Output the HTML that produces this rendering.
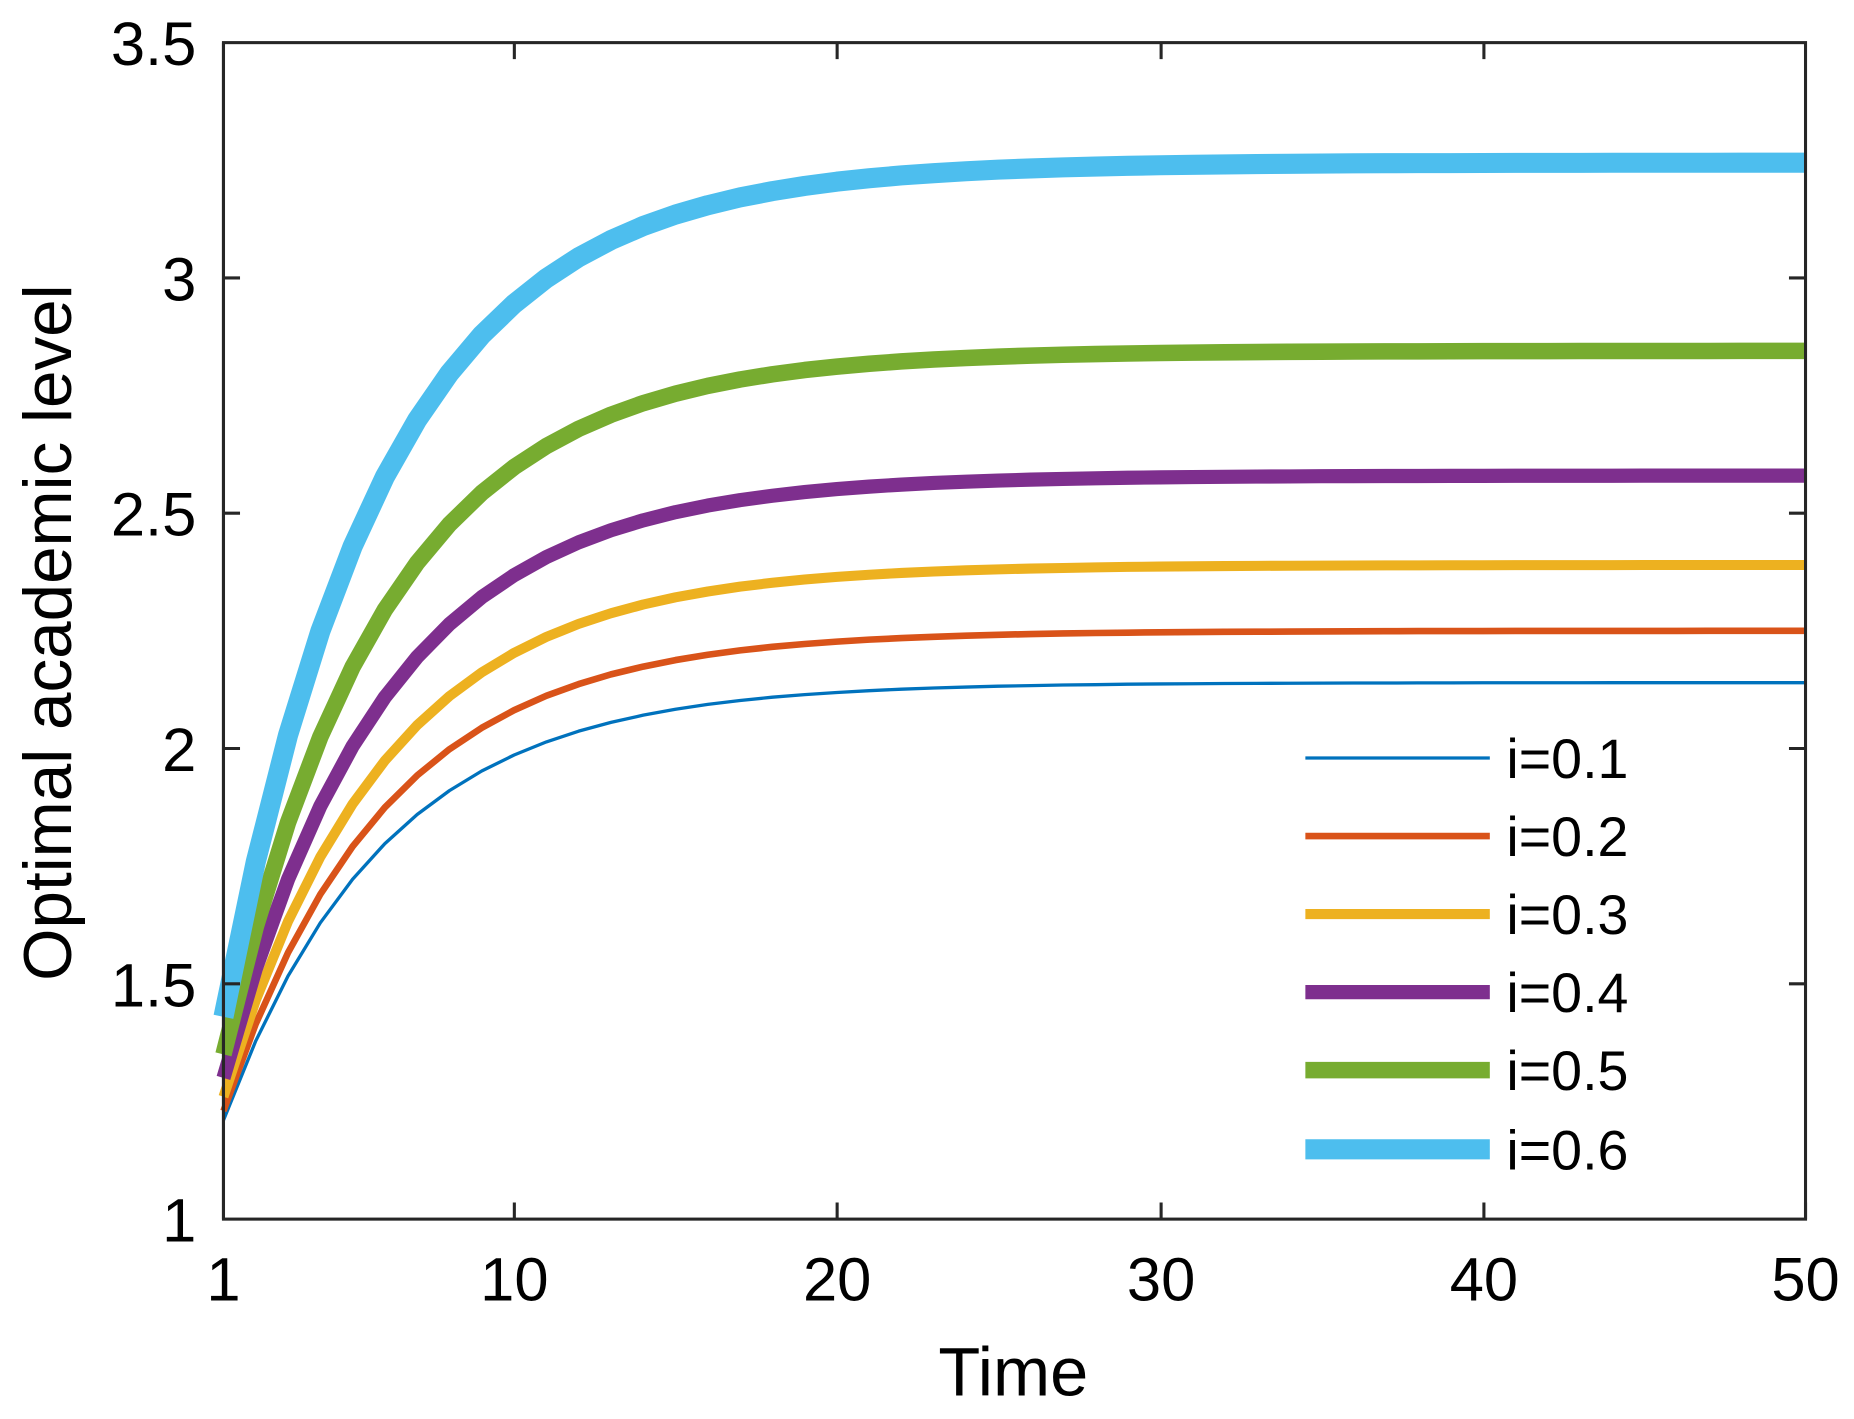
<!DOCTYPE html>
<html><head><meta charset="utf-8"><style>html,body{margin:0;padding:0;background:#fff}svg{display:block}</style></head>
<body>
<svg id="s" width="1854" height="1419" viewBox="0 0 1568 1200" xmlns="http://www.w3.org/2000/svg" font-family="Liberation Sans, Arial, sans-serif">
<rect width="1568" height="1200" fill="#fff"/>
<g id="curves" fill="none" stroke-linejoin="round"></g>
<g stroke="#262626" stroke-width="2.6" fill="none">
<rect x="189" y="36" width="1338" height="995"/>
<path d="M189,36v995M435,1031v-14M708,1031v-14M982,1031v-14M1255,1031v-14M1527,1031v-14M435,36v14M708,36v14M982,36v14M1255,36v14
M189,832h14M189,633h14M189,434h14M189,235h14M1527,832h-14M1527,633h-14M1527,434h-14M1527,235h-14"/>
</g>
<g font-size="52" fill="#000" text-anchor="middle">
<text x="189" y="1100">1</text><text x="435" y="1100">10</text><text x="708" y="1100">20</text><text x="982" y="1100">30</text><text x="1255" y="1100">40</text><text x="1527" y="1100">50</text>
</g>
<g font-size="52" fill="#000" text-anchor="end">
<text x="166" y="1050">1</text><text x="166" y="851">1.5</text><text x="166" y="652">2</text><text x="166" y="453">2.5</text><text x="166" y="254">3</text><text x="166" y="55">3.5</text>
</g>
<text x="857" y="1180" font-size="58" text-anchor="middle">Time</text>
<text transform="translate(60,535) rotate(-90)" font-size="57" text-anchor="middle">Optimal academic level</text>
<g id="leg" font-size="47" fill="#000"></g>
</svg>
<script>
var d=[[1.21,2.14,'#0072BD',2.8],[1.23,2.25,'#D95319',5.6],[1.26,2.39,'#EDB120',8.5],[1.30,2.58,'#7E2F8E',12],[1.35,2.845,'#77AC30',14],[1.43,3.245,'#4DBEEE',17]];
var g=document.getElementById('curves'),L=document.getElementById('leg'),ns='http://www.w3.org/2000/svg';
var ly=[641,707,773,839,905,972];
d.forEach(function(c,i){var p='';for(var t=1;t<=50;t++){var y=c[1]-(c[1]-c[0])*Math.exp(-0.2*(t-1));var X=189+(t-1)*1338/49,Y=1031-(y-1)*398;p+=(t==1?'M':'L')+X.toFixed(1)+','+Y.toFixed(1);}
var e=document.createElementNS(ns,'path');e.setAttribute('d',p);e.setAttribute('stroke',c[2]);e.setAttribute('stroke-width',c[3]);g.appendChild(e);
var l=document.createElementNS(ns,'line');l.setAttribute('x1',1104);l.setAttribute('x2',1260);l.setAttribute('y1',ly[i]);l.setAttribute('y2',ly[i]);l.setAttribute('stroke',c[2]);l.setAttribute('stroke-width',c[3]);L.appendChild(l);
var tx=document.createElementNS(ns,'text');tx.setAttribute('x',1274);tx.setAttribute('y',ly[i]+17);tx.textContent='i=0.'+(i+1);L.appendChild(tx);});
</script>
</body></html>
